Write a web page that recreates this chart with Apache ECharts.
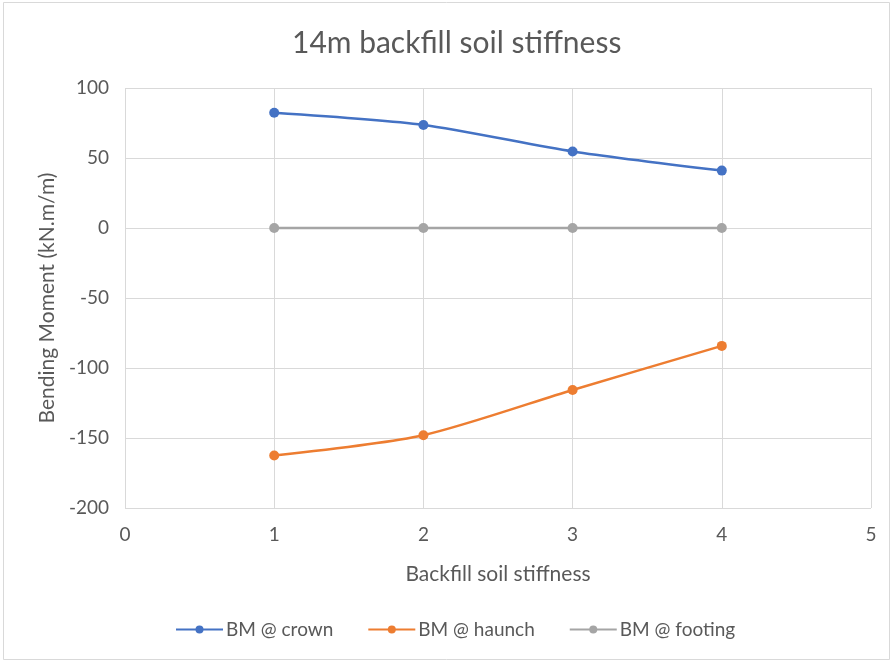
<!DOCTYPE html>
<html>
<head>
<meta charset="utf-8">
<script src="https://cdn.jsdelivr.net/npm/echarts@6/dist/echarts.min.js"></script>
<style>
  html, body { margin: 0; padding: 0; background: #fff; }
  #chart { width: 893px; height: 663px; }
</style>
</head>
<body>
<div id="chart"></div>
<script>
// Bending moment vs backfill soil stiffness, 14 m cover
const stiffness = [1, 2, 3, 4];
const crown = [82.3, 73.6, 54.7, 41.0];
const haunch = [-162.5, -148.0, -115.7, -84.2];
const footing = [0, 0, 0, 0];
const seriesNames = ['BM @ crown', 'BM @ haunch', 'BM @ footing'];
const seriesColors = ['#4472C4', '#ED7D31', '#A5A5A5'];

const textColor = '#595959';
const fontFamily = 'Lato, "Open Sans", sans-serif';

const pairs = (ys) => stiffness.map((x, i) => [x, ys[i]]);

const chart = echarts.init(document.getElementById('chart'), null, { renderer: 'canvas' });
chart.setOption({
  animation: false,
  backgroundColor: '#fff',
  textStyle: { fontFamily: fontFamily },
  title: {
    text: '14m backfill soil stiffness',
    left: 287,
    top: 23,
    textStyle: { fontSize: 30, fontWeight: 'normal', color: textColor, fontFamily: fontFamily }
  },
  graphic: [{
    type: 'rect',
    shape: { x: 3.5, y: 2.5, width: 886, height: 657 },
    style: { fill: 'none', stroke: '#d9d9d9', lineWidth: 1 },
    silent: true
  }],
  grid: { left: 125, right: 22, top: 88, bottom: 155 },
  legend: {
    bottom: 19,
    left: 170,
    itemGap: 34,
    itemWidth: 47,
    itemHeight: 10,
    textStyle: { fontSize: 19, color: textColor, fontFamily: fontFamily, padding: [0, 0, 0, -2] },
    data: seriesNames
  },
  xAxis: {
    type: 'value',
    min: 0,
    max: 5,
    interval: 1,
    name: 'Backfill soil stiffness',
    nameLocation: 'middle',
    nameGap: 56,
    nameTextStyle: { fontSize: 21, color: textColor },
    axisLine: { show: false },
    axisTick: { show: false },
    axisLabel: { fontSize: 19, color: textColor, margin: 17 },
    splitLine: { show: true, lineStyle: { color: '#d9d9d9', width: 1 } }
  },
  yAxis: {
    type: 'value',
    min: -200,
    max: 100,
    interval: 50,
    name: 'Bending Moment (kN.m/m)',
    nameLocation: 'middle',
    nameGap: 67,
    nameTextStyle: { fontSize: 21, color: textColor },
    axisLine: { show: false },
    axisTick: { show: false },
    axisLabel: { fontSize: 19, color: textColor, margin: 16 },
    splitLine: { show: true, lineStyle: { color: '#d9d9d9', width: 1 } }
  },
  series: [crown, haunch, footing].map((ys, i) => ({
    name: seriesNames[i],
    type: 'line',
    data: pairs(ys),
    smooth: 0.25,
    symbol: 'circle',
    symbolSize: 10,
    color: seriesColors[i],
    lineStyle: { width: 2.5, color: seriesColors[i] },
    itemStyle: { color: seriesColors[i] },
    z: 3 - i
  }))
});
</script>
</body>
</html>
